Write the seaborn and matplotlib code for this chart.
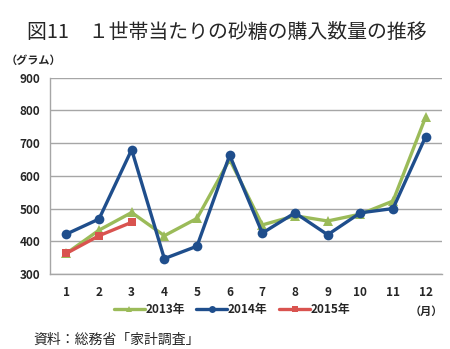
import matplotlib
matplotlib.use("Agg")
import matplotlib.pyplot as plt
import seaborn as sns
import pandas as pd
import numpy as np

months = list(range(1, 13))
month_labels = [str(m) for m in months]
v2013 = [363, 434, 488, 417, 470, 650, 450, 478, 462, 483, 523, 780]
v2014 = [422, 468, 680, 347, 385, 663, 425, 487, 420, 487, 500, 720]
v2015 = [363, 417, 458]
series_names = ["2013年", "2014年", "2015年"]
yticks = [300, 400, 500, 600, 700, 800, 900]

sns.set_theme(style="white")
plt.rcParams['font.family'] = ['Noto Sans CJK JP', 'DejaVu Sans']

colors = {"2013年": "#9BBB59", "2014年": "#1F4E8C", "2015年": "#D9534F"}
markers = {"2013年": "^", "2014年": "o", "2015年": "s"}

rows = []
for name, vals in zip(series_names, [v2013, v2014, v2015]):
    for m, v in zip(months, vals):
        rows.append({"month": m, "value": v, "series": name})
df = pd.DataFrame(rows)

fig = plt.figure(figsize=(4.5, 3.49), dpi=100)
ax = fig.add_axes([50/450, 1-274/349, 392/450, (274-77.7)/349])

for name in series_names:
    sub = df[df["series"] == name]
    sns.lineplot(data=sub, x="month", y="value", ax=ax, color=colors[name],
                 marker=markers[name], markersize=7 if name != "2015年" else 6,
                 markeredgewidth=0, linewidth=2.4, label=name, zorder=3 if name != "2013年" else 2)

ax.set_xlim(0.5, 12.5)
ax.set_ylim(300, 900)
ax.set_yticks(yticks)
ax.set_yticklabels([str(t) for t in yticks], fontsize=8.5, fontweight='bold')
ax.set_xticks(months)
ax.set_xticklabels(month_labels, fontsize=8.5, fontweight='bold')
ax.set_xticks(np.arange(0.5, 13, 1), minor=True)
ax.tick_params(axis='x', which='major', length=0, pad=9)
ax.tick_params(axis='x', which='minor', length=3, color='#999999', width=0.8, direction='out')
ax.tick_params(axis='y', length=4, color='#999999', width=0.8, pad=3)
ax.set_xlabel("")
ax.set_ylabel("")
ax.grid(axis='y', color='#A6A6A6', linewidth=1)
ax.set_axisbelow(True)
for s in ['top', 'right']:
    ax.spines[s].set_visible(False)
for s in ['left', 'bottom']:
    ax.spines[s].set_color('#A6A6A6')
    ax.spines[s].set_linewidth(1)

leg = ax.legend(loc='center', bbox_to_anchor=(232/450, 1-310/349), bbox_transform=fig.transFigure,
                ncol=3, frameon=False, prop={'size': 8.5, 'weight': 'bold'},
                handlelength=2.6, handletextpad=0.05, columnspacing=1.0)
for h in leg.legend_handles:
    h.set_markersize(5)

fig.text(27/450, 1-32/349, "図11　１世帯当たりの砂糖の購入数量の推移", fontsize=14.3, va='center', ha='left')
fig.text(6/450, 1-60/349, "（グラム）", fontsize=8, fontweight='bold', va='center', ha='left')
fig.text(410/450, 1-311/349, "（月）", fontsize=8, fontweight='bold', va='center', ha='left')
fig.text(33/450, 1-340/349, "資料：総務省「家計調査」", fontsize=10, va='center', ha='left')

fig.savefig("out.png", dpi=100)
